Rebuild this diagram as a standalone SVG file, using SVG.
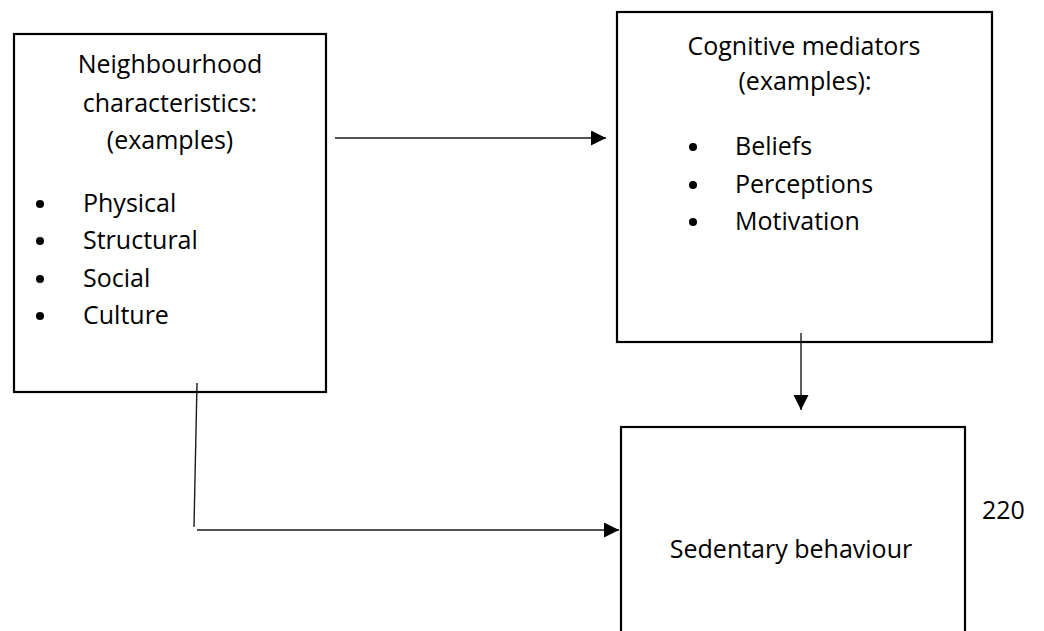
<svg xmlns="http://www.w3.org/2000/svg" width="1044" height="631" viewBox="0 0 1044 631">
  <style>
    .box { fill: #fff; stroke: #000; stroke-width: 2.2; }
    .t { font-family: "Open Sans", "Liberation Sans", sans-serif; font-size: 25px; fill: #000; }
    .c { text-anchor: middle; }
    .conn { stroke: #1a1a1a; stroke-width: 1.4; fill: none; }
  </style>
  <defs>
    <marker id="ah" markerWidth="16" markerHeight="16" refX="15" refY="7.5" orient="auto" markerUnits="userSpaceOnUse">
      <path d="M0,0 L15,7.5 L0,15 z" fill="#000"/>
    </marker>
  </defs>
  <rect width="1044" height="631" fill="#fff"/>

  <g id="neighbourhood">
    <rect class="box" x="14" y="34" width="312" height="358"/>
    <text class="t c" x="170" y="73">Neighbourhood</text>
    <text class="t c" x="170" y="112">characteristics:</text>
    <text class="t c" x="170" y="149">(examples)</text>
    <circle cx="40" cy="204" r="4"/>
    <text class="t" x="83" y="212">Physical</text>
    <circle cx="40" cy="241" r="4"/>
    <text class="t" x="83" y="249">Structural</text>
    <circle cx="40" cy="279" r="4"/>
    <text class="t" x="83" y="287">Social</text>
    <circle cx="40" cy="316" r="4"/>
    <text class="t" x="83" y="324">Culture</text>
  </g>

  <g id="cognitive">
    <rect class="box" x="617" y="12" width="375" height="330"/>
    <text class="t c" x="804" y="55">Cognitive mediators</text>
    <text class="t c" x="805" y="90">(examples):</text>
    <circle cx="693" cy="147" r="4"/>
    <text class="t" x="735" y="155">Beliefs</text>
    <circle cx="693" cy="185" r="4"/>
    <text class="t" x="735" y="193">Perceptions</text>
    <circle cx="693" cy="222" r="4"/>
    <text class="t" x="735" y="230">Motivation</text>
  </g>

  <g id="sedentary">
    <rect class="box" x="621" y="427" width="344" height="230"/>
    <text class="t c" x="791" y="558">Sedentary behaviour</text>
  </g>

  <g id="page-number">
    <text class="t" x="982" y="519">220</text>
  </g>

  <g id="connectors">
    <line class="conn" x1="335" y1="138" x2="606" y2="138" marker-end="url(#ah)"/>
    <line class="conn" x1="801" y1="333" x2="801" y2="410" marker-end="url(#ah)"/>
    <line class="conn" x1="197" y1="383" x2="194" y2="527"/>
    <line class="conn" x1="197" y1="530" x2="619" y2="530" marker-end="url(#ah)"/>
  </g>
</svg>
